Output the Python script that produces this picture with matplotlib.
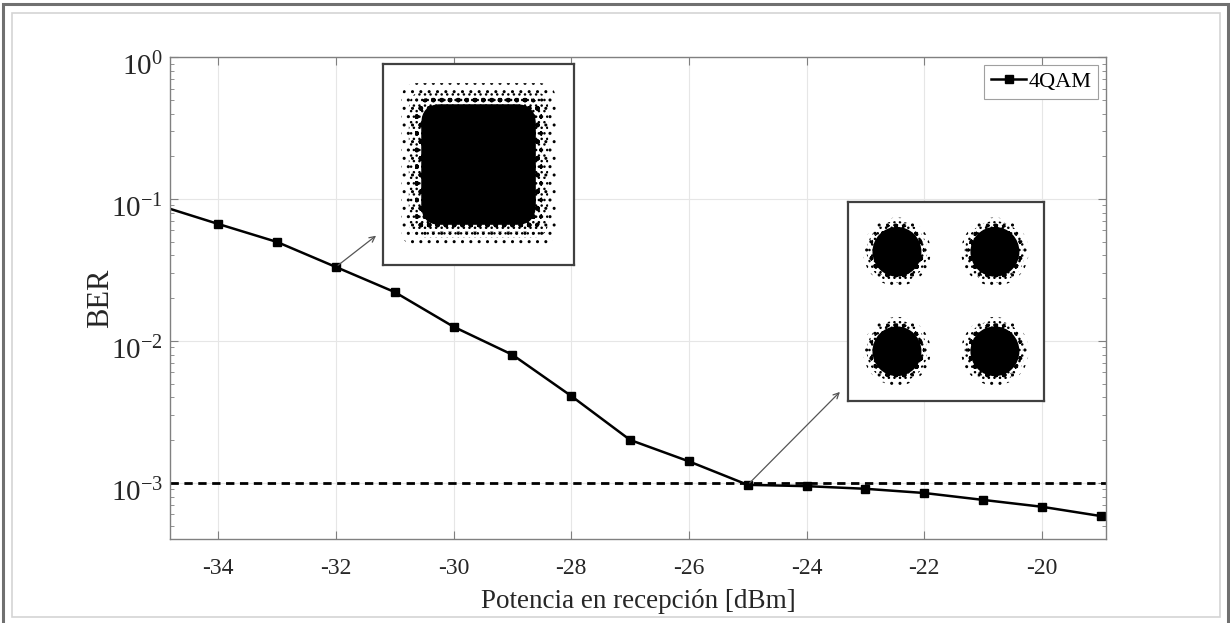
import numpy as np
import matplotlib
matplotlib.use('Agg')
from matplotlib import pyplot as plt
from matplotlib.patches import Rectangle, FancyBboxPatch, Circle
from matplotlib.transforms import ScaledTranslation

# BER curve
potencia = [-35, -34, -33, -32, -31, -30, -29, -28, -27, -26, -25, -24, -23, -22, -21, -20, -19]
ber = [0.09, 0.0667, 0.0498, 0.0332, 0.0221, 0.0126, 0.0080, 0.0041, 0.00201, 0.00142,
       0.00097, 0.00095, 0.00091, 0.00085, 0.00076, 0.00068, 0.000585]
umbral_fec = 1e-3
serie = '4QAM'

# constellation insets (symbol centres, cloud half-size in symbol units)
qam_i = [-1, 1, -1, 1]
qam_q = [1, 1, -1, -1]
nube_baja = 0.5     # at -25 dBm
nube_alta = 1.2     # at -32 dBm

plt.rcParams['font.family'] = 'Liberation Serif'
plt.rcParams['mathtext.fontset'] = 'stix'
plt.rcParams['hatch.linewidth'] = 1.0

fig = plt.figure(figsize=(12.3, 6.23), dpi=100)

# outer frames
fig.patches.append(Rectangle((12/1230, 1-617/623), 1208/1230, 604/623, transform=fig.transFigure,
                             fill=False, edgecolor='#d4d4d4', linewidth=1.2))
fig.patches.append(Rectangle((3/1230, -0.01), 1225/1230, 1-4/623+0.01, transform=fig.transFigure,
                             fill=False, edgecolor='#707070', linewidth=2.2))

ax = fig.add_axes([0.1382, 0.1348, 0.7610, 0.7737])
ax.set_yscale('log')
ax.plot(potencia, ber, '-s', color='black', linewidth=1.8, markersize=5.5, label=serie)
ax.axhline(umbral_fec, color='black', linewidth=2, linestyle=(0, (3, 2)))
ax.set_xlim(-34.82, -18.91)
ax.set_ylim(4.03e-4, 1)
ax.set_xticks(np.arange(-34, -19, 2))
ax.set_yticks([1e-3, 1e-2, 1e-1, 1e0])
ax.set_xticklabels([str(v) for v in range(-34, -19, 2)])
ax.grid(True, which='major', color='#e6e6e6', linewidth=0.8)
ax.set_axisbelow(True)
ax.tick_params(which='both', direction='in', top=True, right=True, colors='#808080',
               labelcolor='#262626')
ax.tick_params(axis='x', labelsize=17, pad=14)
ax.tick_params(axis='y', labelsize=21, pad=5)
ax.tick_params(which='major', length=6)
ax.tick_params(which='minor', length=3)
for lab in ax.get_yticklabels():
    lab.set_transform(lab.get_transform() + ScaledTranslation(0, -5/72, fig.dpi_scale_trans))
for s in ax.spines.values():
    s.set_color('#808080')
    s.set_linewidth(1.0)
ax.set_xlabel('Potencia en recepción [dBm]', fontsize=19.5, color='#262626', labelpad=7)
ax.set_ylabel('BER', fontsize=22, color='#262626', labelpad=-3)

leg = ax.legend(loc='upper right', fontsize=16, handlelength=1.6, handletextpad=0.1,
                borderpad=0.3, fancybox=False, framealpha=1, borderaxespad=0.35)
leg.get_frame().set_edgecolor('#a0a0a0')
leg.get_frame().set_linewidth(0.8)

# arrows to insets
ax.annotate('', xy=(-31.28, 0.0567), xytext=(potencia[3], ber[3]),
            arrowprops=dict(arrowstyle='->', color='#555555', lw=0.9))
ax.annotate('', xy=(-23.40, 0.00452), xytext=(potencia[10], ber[10]),
            arrowprops=dict(arrowstyle='->', color='#555555', lw=0.9))


def marco(a):
    a.set_xlim(-2, 2)
    a.set_ylim(-2, 2)
    a.set_xticks([])
    a.set_yticks([])
    for s in a.spines.values():
        s.set_color('#404040')
        s.set_linewidth(1.6)


# speckled fringe (sparse -> dense hatch dots) around a solid core
fringe = [('..', 0.42), ('...', 0.26), ('oo', 0.13)]

# high-noise constellation: the four clouds merge into one square blob
ins1 = fig.add_axes([0.3114, 0.5746, 0.1553, 0.3226])
marco(ins1)
for hatch, extra in fringe:
    h = nube_alta + extra
    ins1.add_patch(FancyBboxPatch((-h + 0.35, -h + 0.35), 2 * h - 0.7, 2 * h - 0.7,
                                  boxstyle='round,pad=0.35', facecolor='none',
                                  edgecolor='black', linewidth=0, hatch=hatch))
ins1.add_patch(FancyBboxPatch((-nube_alta + 0.4, -nube_alta + 0.4), 2 * nube_alta - 0.8,
                              2 * nube_alta - 0.8, boxstyle='round,pad=0.4',
                              facecolor='black', edgecolor='none'))

# constellation at the FEC limit: four separate clouds
ins2 = fig.add_axes([0.6894, 0.3563, 0.1593, 0.3194])
marco(ins2)
for ci, cq in zip(qam_i, qam_q):
    for hatch, extra in fringe:
        ins2.add_patch(Circle((ci, cq), nube_baja + extra * 0.45, facecolor='none',
                              edgecolor='black', linewidth=0, hatch=hatch))
    ins2.add_patch(Circle((ci, cq), nube_baja, facecolor='black', edgecolor='none'))

plt.savefig('out.png', dpi=100)
